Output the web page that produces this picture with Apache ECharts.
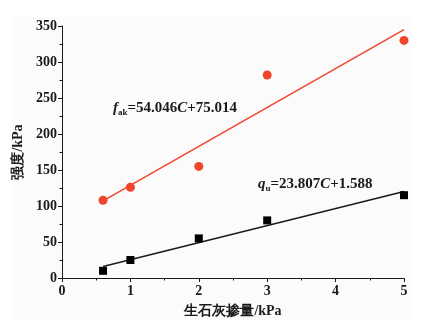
<!DOCTYPE html>
<html><head><meta charset="utf-8">
<script src="https://cdn.jsdelivr.net/npm/echarts@6/dist/echarts.min.js"></script>
<style>html,body{margin:0;padding:0;background:#fff}#c{width:425px;height:328px}</style>
</head><body><div id="c"></div>
<script>
const lime = [0.6, 1, 2, 3, 5];
const fakValues = [108, 126, 155, 282, 330];
const quValues = [10, 25, 55, 80, 115];
const fakFitX = [0.6, 5];
const fakFitY = [107, 345];
const quFitX = [0.6, 5];
const quFitY = [16, 120];
const xTicks = [0, 1, 2, 3, 4, 5];
const yTicks = [0, 50, 100, 150, 200, 250, 300, 350];

const font = '"Liberation Serif", "Times New Roman", serif';
const red = '#f0452d';
const ink = '#1a1a1a';
const zip = (a, b) => a.map((v, i) => [v, b[i]]);

const rich = {
  i: {fontFamily: font, fontStyle: 'italic', fontSize: 15, fill: ink, fontWeight: 'bold'},
  s: {fontFamily: font, fontSize: 9, fill: ink, padding: [8, 0, 0, 0], fontWeight: 'bold'},
  n: {fontFamily: font, fontSize: 15, fill: ink, fontWeight: 'bold'}
};

const chart = echarts.init(document.getElementById('c'));
chart.setOption({
  animation: false,
  backgroundColor: '#fff',
  graphic: [
    {type: 'rect', z: -10, shape: {x: 12, y: 17, width: 400, height: 303}, style: {fill: '#fbfbfb'}},
    {type: 'text', left: 113, top: 101, z: 10, style: {text: '{i|f}{s|ak}{n|=54.046}{i|C}{n|+75.014}', rich}},
    {type: 'text', left: 258, top: 177, z: 10, style: {text: '{i|q}{s|u}{n|=23.807}{i|C}{n|+1.588}', rich}}
  ],
  grid: {left: 62, right: 21, top: 26, bottom: 50},
  xAxis: {
    type: 'value', min: 0, max: 5, interval: 1,
    name: '生石灰掺量/kPa', nameLocation: 'middle', nameGap: 26,
    nameTextStyle: {fontFamily: font, fontSize: 14, color: ink, fontWeight: 'bold'},
    axisLine: {show: true, onZero: false, lineStyle: {color: ink, width: 1}},
    axisTick: {show: true, inside: false, length: 4, lineStyle: {color: ink}},
    minorTick: {show: true, splitNumber: 2, length: 2.5, lineStyle: {color: ink}},
    splitLine: {show: false},
    axisLabel: {fontFamily: font, fontSize: 14, color: ink, margin: 6, fontWeight: 'bold',
      formatter: v => xTicks.includes(v) ? String(v) : ''}
  },
  yAxis: {
    type: 'value', min: 0, max: 350, interval: 50,
    name: '强度/kPa', nameLocation: 'middle', nameGap: 34, nameRotate: 90,
    nameTextStyle: {fontFamily: font, fontSize: 14, color: ink, fontWeight: 'bold'},
    axisLine: {show: true, lineStyle: {color: ink, width: 1}},
    axisTick: {show: true, inside: false, length: 4, lineStyle: {color: ink}},
    minorTick: {show: true, splitNumber: 2, length: 2.5, lineStyle: {color: ink}},
    splitLine: {show: false},
    axisLabel: {fontFamily: font, fontSize: 14, color: ink, margin: 5, fontWeight: 'bold',
      formatter: v => yTicks.includes(v) ? String(v) : ''}
  },
  series: [
    {type: 'line', data: zip(fakFitX, fakFitY), symbol: 'none', lineStyle: {color: red, width: 1.5}, z: 2},
    {type: 'line', data: zip(quFitX, quFitY), symbol: 'none', lineStyle: {color: ink, width: 1.5}, z: 2},
    {type: 'scatter', data: zip(lime, fakValues), symbol: 'circle', symbolSize: 9, itemStyle: {color: red, opacity: 1}, z: 3},
    {type: 'scatter', data: zip(lime, quValues), symbol: 'rect', symbolSize: 8, itemStyle: {color: '#000', opacity: 1}, z: 3}
  ]
});
</script></body></html>
